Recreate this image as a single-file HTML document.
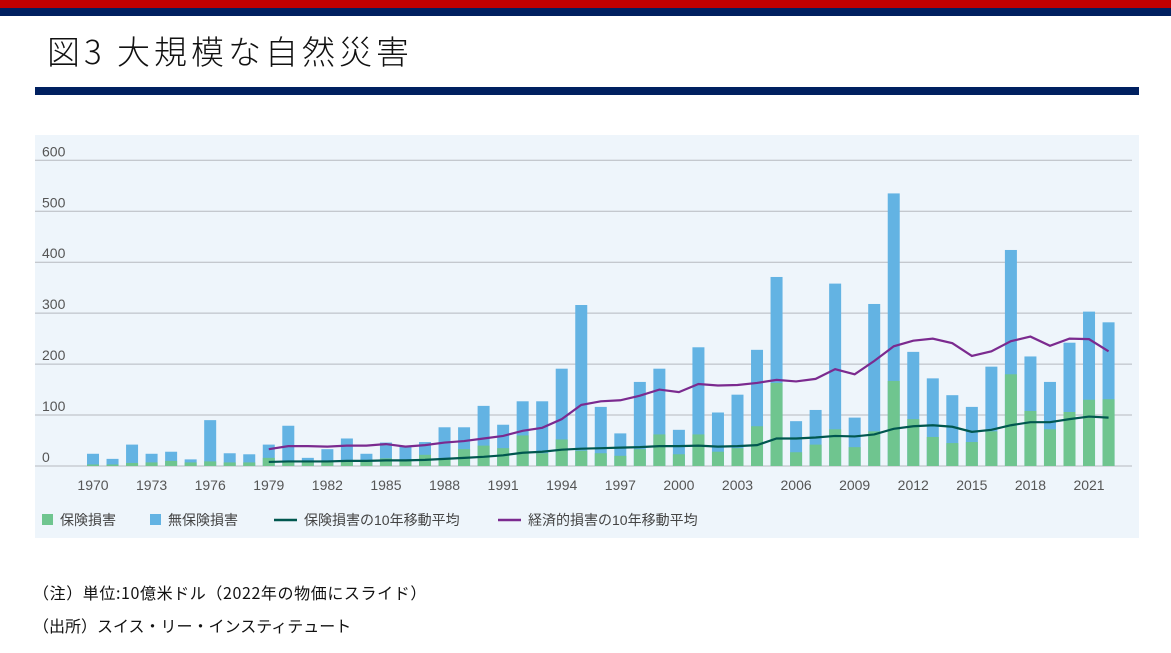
<!DOCTYPE html>
<html><head><meta charset="utf-8"><style>
body{margin:0;width:1171px;height:653px;background:#fff;position:relative;overflow:hidden;font-family:"Liberation Sans","Noto Sans CJK JP",sans-serif}
.a{position:absolute}
</style></head><body>
<div class="a" style="left:0;top:0;width:1171px;height:8px;background:#c00000"></div>
<div class="a" style="left:0;top:8px;width:1171px;height:8px;background:#002060"></div>
<div class="a" style="left:47px;top:26px;font-size:33px;color:#111;font-family:'Noto Sans CJK JP',sans-serif;letter-spacing:4px;font-weight:300">図3 大規模な自然災害</div>
<div class="a" style="left:35px;top:87px;width:1104px;height:8px;background:#002060"></div>
<svg class="a" style="left:0;top:0" width="1171" height="653" id="s"></svg>
<div class="a" style="left:33px;top:580px;font-size:16px;color:#111;font-family:'Noto Sans CJK JP',sans-serif;letter-spacing:0.6px">（注）単位:10億米ドル（2022年の物価にスライド）</div>
<div class="a" style="left:33px;top:613px;font-size:16px;color:#111;font-family:'Noto Sans CJK JP',sans-serif">（出所）スイス・リー・インスティテュート</div>
<script>
var tot=[24,14,42,24,28,13,90,25,23,42,79,16,33,54,24,46,38,47,76,76,118,81,127,127,191,316,116,64,165,191,71,233,105,140,228,371,88,110,358,95,318,535,224,172,139,116,195,424,215,165,242,303,282];
var ins=[3,3,6,7,10,7,9,7,7,16,10,8,10,10,8,15,10,22,15,33,40,35,60,25,52,30,25,20,33,62,23,62,28,35,78,163,27,42,72,37,68,167,92,57,45,47,68,180,108,72,106,130,131];
var ima=[8,9,9,9,10,10,11,11,12,14,16,18,21,26,28,32,34,35,36,37,39,39,40,38,39,41,54,54,56,59,58,62,73,78,80,77,67,71,80,86,86,92,97,95];
var ema=[33,39,39,38,40,40,43,38,41,46,49,54,59,69,75,92,120,127,129,138,150,145,161,158,159,163,169,166,171,190,180,206,235,246,250,241,216,225,245,254,236,250,249,225];
function X(i){return 93+i*19.53}function Y(v){return 466-v*0.5095}
var h='<rect x="35" y="135" width="1104" height="403" fill="#eef5fb"/>';
for(var k=0;k<=6;k++){var y=Y(k*100);h+='<line x1="35" x2="1132" y1="'+y+'" y2="'+y+'" stroke="#b5b9bf" stroke-width="1"/>';
h+='<text x="42" y="'+(y-4)+'" font-size="14" fill="#555">'+(k*100)+'</text>';}
for(var i=0;i<tot.length;i++){var x=X(i)-6;
h+='<rect x="'+x+'" y="'+Y(tot[i])+'" width="12" height="'+(tot[i]*0.5095)+'" fill="#63b3e3"/>';
h+='<rect x="'+x+'" y="'+Y(ins[i])+'" width="12" height="'+(ins[i]*0.5095)+'" fill="#6fc58f"/>';}
for(var yr=1970;yr<=2021;yr+=3)h+='<text x="'+X(yr-1970)+'" y="490" font-size="14" fill="#555" text-anchor="middle">'+yr+'</text>';
function pl(a,c){var p=a.map(function(v,j){return X(j+9)+','+Y(v)}).join(' ');return '<polyline points="'+p+'" fill="none" stroke="'+c+'" stroke-width="2.2"/>';}
h+=pl(ema,'#7b2a8f')+pl(ima,'#00574f');
h+='<rect x="42" y="514" width="11" height="11" fill="#6fc58f"/><text x="60" y="525" font-size="14" fill="#444">保険損害</text>';
h+='<rect x="150" y="514" width="11" height="11" fill="#63b3e3"/><text x="168" y="525" font-size="14" fill="#444">無保険損害</text>';
h+='<line x1="274" x2="297" y1="520" y2="520" stroke="#00574f" stroke-width="2.5"/><text x="304" y="525" font-size="14" fill="#444">保険損害の10年移動平均</text>';
h+='<line x1="498" x2="521" y1="520" y2="520" stroke="#7b2a8f" stroke-width="2.5"/><text x="528" y="525" font-size="14" fill="#444">経済的損害の10年移動平均</text>';
document.getElementById('s').innerHTML=h;
</script>
</body></html>
